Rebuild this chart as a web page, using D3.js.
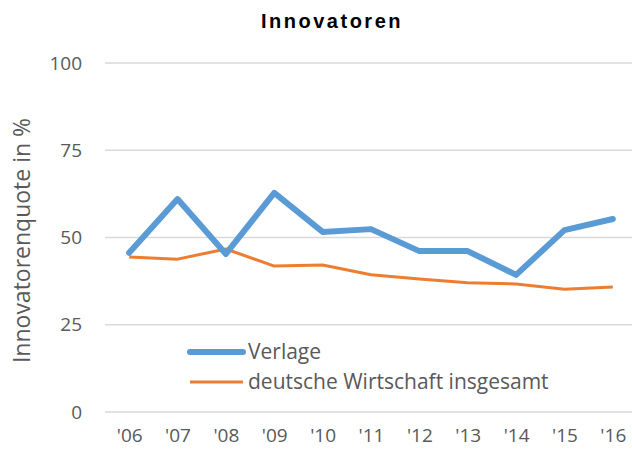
<!DOCTYPE html>
<html>
<head>
<meta charset="utf-8">
<script src="https://cdn.jsdelivr.net/npm/d3@7"></script>
<style>
  body { margin: 0; background: #fff; }
  svg { display: block; }
</style>
</head>
<body>
<div id="chart"></div>
<script>
const years = ["'06", "'07", "'08", "'09", "'10", "'11", "'12", "'13", "'14", "'15", "'16"];
const verlage = [45.6, 61.0, 45.3, 62.8, 51.6, 52.4, 46.1, 46.1, 39.3, 52.1, 55.3];
const wirtschaft = [44.4, 43.8, 46.7, 41.8, 42.1, 39.3, 38.1, 37.0, 36.7, 35.2, 35.8];
const yTicks = [0, 25, 50, 75, 100];

const W = 632, H = 454;
const plot = { left: 105, right: 637, top: 63, bottom: 412 };

const svg = d3.select("#chart").append("svg")
    .attr("width", W)
    .attr("height", H);

const x = d3.scalePoint().domain(years).range([plot.left, plot.right]).padding(0.5);
const y = d3.scaleLinear().domain([0, 100]).range([plot.bottom, plot.top]);

// gridlines
svg.append("g")
    .selectAll("line")
    .data(yTicks)
    .enter().append("line")
        .attr("x1", plot.left).attr("x2", plot.right)
        .attr("y1", d => y(d)).attr("y2", d => y(d))
        .style("stroke", "#d9d9d9")
        .style("stroke-width", 1.5);

// y axis labels
const yAxis = d3.axisLeft(y).tickValues(yTicks).tickSize(0).tickPadding(0);
svg.append("g")
    .attr("transform", "translate(82,0)")
    .call(yAxis)
    .call(g => g.select(".domain").remove())
    .selectAll("text")
        .style("font-family", "'Open Sans', sans-serif")
        .style("font-size", "19px")
        .style("fill", "#595959");

// x axis labels
const xAxis = d3.axisBottom(x).tickSize(0).tickPadding(0);
svg.append("g")
    .attr("transform", "translate(0,428)")
    .call(xAxis)
    .call(g => g.select(".domain").remove())
    .selectAll("text")
        .style("font-family", "'Open Sans', sans-serif")
        .style("font-size", "19px")
        .style("fill", "#595959");

// lines
const line = d3.line()
    .x((d, i) => x(years[i]))
    .y(d => y(d));

svg.append("path")
    .attr("d", line(wirtschaft))
    .style("fill", "none")
    .style("stroke", "#ED7D31")
    .style("stroke-width", 3)
    .style("stroke-linejoin", "round");

svg.append("path")
    .attr("d", line(verlage))
    .style("fill", "none")
    .style("stroke", "#5B9BD5")
    .style("stroke-width", 6)
    .style("stroke-linejoin", "round")
    .style("stroke-linecap", "round");

// title
svg.append("text")
    .attr("x", 332).attr("y", 28)
    .attr("text-anchor", "middle")
    .style("font-family", "'Liberation Sans', Arial, sans-serif")
    .style("font-weight", "bold")
    .style("font-size", "20px")
    .style("letter-spacing", "2.5px")
    .style("fill", "#000")
    .text("Innovatoren");

// y axis title
svg.append("text")
    .attr("transform", "translate(22," + ((plot.top + plot.bottom) / 2 + 3) + ") rotate(-90)")
    .attr("text-anchor", "middle")
    .attr("dy", "0.35em")
    .style("font-family", "'Open Sans', sans-serif")
    .style("font-size", "23px")
    .style("fill", "#595959")
    .text("Innovatorenquote in %");

// legend
const legend = [
    { name: "Verlage", color: "#5B9BD5", width: 6, y: 352 },
    { name: "deutsche Wirtschaft insgesamt", color: "#ED7D31", width: 3, y: 382 }
];
const lg = svg.append("g").selectAll("g").data(legend).enter().append("g");
lg.append("line")
    .attr("x1", 190).attr("x2", 243)
    .attr("y1", d => d.y).attr("y2", d => d.y)
    .style("stroke", d => d.color)
    .style("stroke-width", d => d.width)
    .style("stroke-linecap", d => d.width > 4 ? "round" : "butt");
lg.append("text")
    .attr("x", 248).attr("y", d => d.y)
    .attr("dy", "0.35em")
    .style("font-family", "'Open Sans', sans-serif")
    .style("font-size", "21px")
    .style("fill", "#595959")
    .text(d => d.name);
</script>
</body>
</html>
